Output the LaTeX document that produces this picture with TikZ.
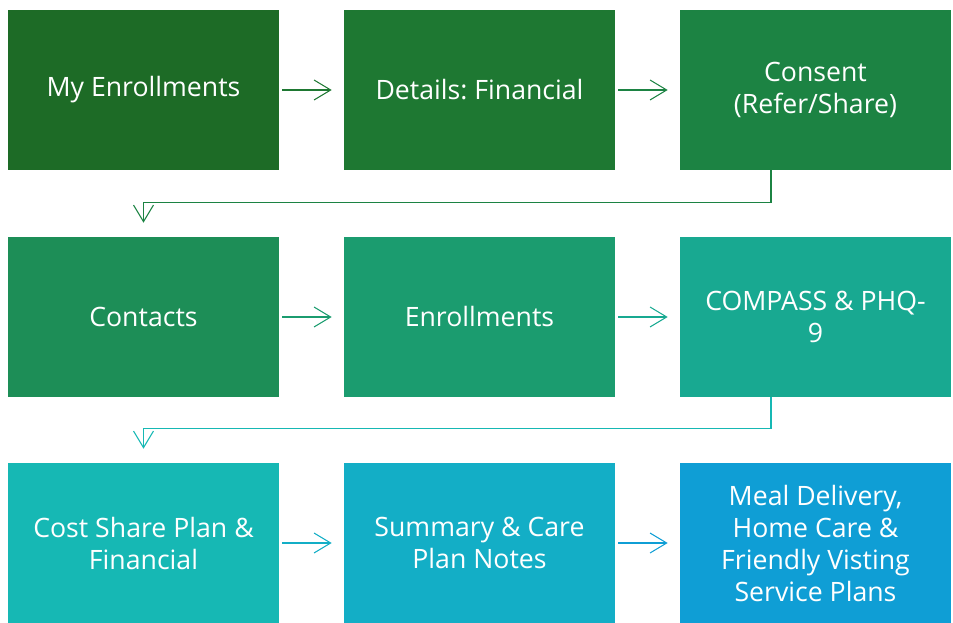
\documentclass[tikz,border=0pt]{standalone}
\usepackage{fontspec}
\setmainfont{Open Sans}
\frenchspacing
\usetikzlibrary{positioning, calc, arrows.meta}
\definecolor{stepA}{HTML}{1D6B26}
\definecolor{stepB}{HTML}{1E7832}
\definecolor{stepC}{HTML}{1C8343}
\definecolor{stepD}{HTML}{1D8E57}
\definecolor{stepE}{HTML}{1B9C6F}
\definecolor{stepF}{HTML}{18A991}
\definecolor{stepG}{HTML}{16B8B4}
\definecolor{stepH}{HTML}{13AEC6}
\definecolor{stepI}{HTML}{0F9ED5}
\tikzset{
  stepbox/.style={fill=#1, text=white, minimum width=203.25pt, minimum height=120pt,
    inner sep=0pt, align=center, font=\fontsize{20}{24}\selectfont},
  link/.style={draw=#1, line width=0.8pt, -{Straight Barb[length=12.5pt, width=15pt, line width=0.8pt]}}
}
\begin{document}
\begin{tikzpicture}[x=0.75pt, y=-0.75pt]
      \useasboundingbox (0,0) rectangle (953,623);

      \node[stepbox=stepA] (myenroll) at (143.5,90) {My Enrollments};
      \node[stepbox=stepB] (details) at (479.5,90) {Details: Financial};
      \node[stepbox=stepC] (consent) at (815.5,90) {Consent\\(Refer/Share)};

      \node[stepbox=stepD] (contacts) at (143.5,317) {Contacts};
      \node[stepbox=stepE] (enroll) at (479.5,317) {Enrollments};
      \node[stepbox=stepF] (compass) at (815.5,317) {COMPASS \& PHQ-\\9};

      \node[stepbox=stepG] (costshare) at (143.5,543) {Cost Share Plan \&\\Financial};
      \node[stepbox=stepH] (summary) at (479.5,543) {Summary \& Care\\Plan Notes};
      \node[stepbox=stepI] (meals) at (815.5,543) {Meal Delivery,\\Home Care \&\\Friendly Visting\\Service Plans};

      \draw[link=stepB] ($(myenroll.east)+(3,0)$) -- ($(details.west)+(-12,0)$);
      \draw[link=stepC] ($(details.east)+(3,0)$) -- ($(consent.west)+(-12,0)$);
      \draw[link=stepC] ($(consent.south)+(-44.5,0)$) -- ++(0,32) -| ($(contacts.north)+(0,-14)$);

      \draw[link=stepE] ($(contacts.east)+(3,0)$) -- ($(enroll.west)+(-12,0)$);
      \draw[link=stepF] ($(enroll.east)+(3,0)$) -- ($(compass.west)+(-12,0)$);
      \draw[link=stepG] ($(compass.south)+(-44.5,0)$) -- ++(0,31) -| ($(costshare.north)+(0,-14)$);

      \draw[link=stepH] ($(costshare.east)+(3,0)$) -- ($(summary.west)+(-12,0)$);
      \draw[link=stepI] ($(summary.east)+(3,0)$) -- ($(meals.west)+(-12,0)$);
\end{tikzpicture}
\end{document}
